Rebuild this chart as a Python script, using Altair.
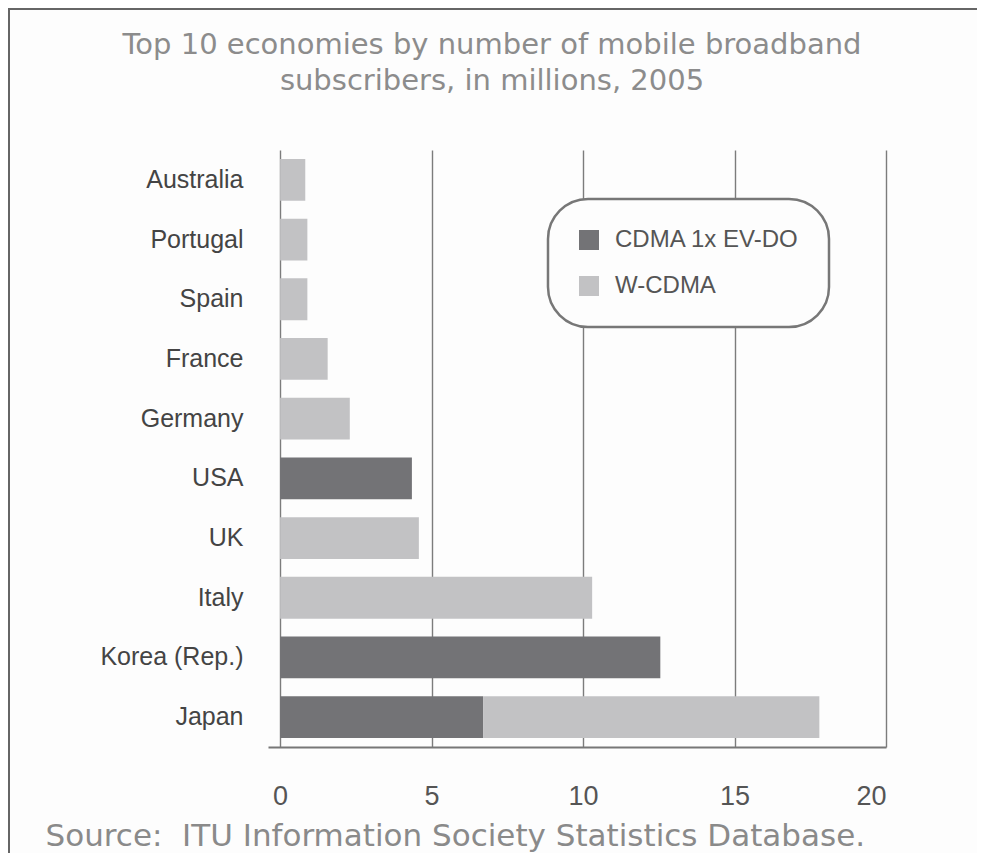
import altair as alt
import pandas as pd

countries = ["Australia", "Portugal", "Spain", "France", "Germany",
             "USA", "UK", "Italy", "Korea (Rep.)", "Japan"]
cdma_values = [0, 0, 0, 0, 0, 4.35, 0, 0, 12.55, 6.7]
wcdma_values = [0.83, 0.9, 0.9, 1.57, 2.3, 0, 4.58, 10.3, 0, 11.1]
techs = ["CDMA 1x EV-DO", "W-CDMA"]
tech_colors = ["#737376", "#c2c2c4"]
x_ticks = [0, 5, 10, 15, 20]
title_lines = ["Top 10 economies by number of mobile broadband",
               "subscribers, in millions, 2005"]
source_text = "Source:\u00a0 ITU Information Society Statistics Database."

rows = []
for c, a, b in zip(countries, cdma_values, wcdma_values):
    if a:
        rows.append({"country": c, "tech": techs[0], "value": a, "order": 0})
    if b:
        rows.append({"country": c, "tech": techs[1], "value": b, "order": 1})
df = pd.DataFrame(rows)

FONT = "Liberation Sans"
WIDE = "DejaVu Sans"
BG = "#fdfdfd"

bars = alt.Chart(df).mark_bar().encode(
    y=alt.Y("country:N", sort=countries,
            scale=alt.Scale(paddingInner=0.3, paddingOuter=0.15),
            axis=alt.Axis(title=None, ticks=False, domain=False, labelFontSize=25,
                          labelColor="#444", labelPadding=25, labelFont=FONT)),
    x=alt.X("value:Q", stack="zero",
            scale=alt.Scale(domain=[-0.4, 20], nice=False, zero=False),
            axis=alt.Axis(values=x_ticks, grid=True, gridColor="#7c7c7c", gridWidth=1.4,
                          domainColor="#777", domainWidth=2, ticks=False,
                          labelFontSize=27, labelColor="#555", labelFont=FONT, labelPadding=36,
                          title=source_text,
                          titleFont=WIDE, titleFontSize=31, titleFontWeight="normal",
                          titleColor="#8a8a8a", titleX=-223, titleY=98,
                          titleAnchor="start", titleAlign="left", titleBaseline="alphabetic")),
    color=alt.Color("tech:N", scale=alt.Scale(domain=techs, range=tech_colors),
                    legend=alt.Legend(title=None, orient="none", legendX=280, legendY=49,
                                      symbolType="square", symbolSize=400, symbolStrokeWidth=0,
                                      labelFontSize=24, labelColor="#555", labelFont=FONT,
                                      labelLimit=300, labelOffset=14,
                                      padding=29, rowPadding=22,
                                      strokeColor="#777", cornerRadius=40, fillColor=BG)),
    order=alt.Order("order:Q"),
)

frame_df = pd.DataFrame({"a": [0]})
top_line = alt.Chart(frame_df).mark_rule(color="#666", strokeWidth=2).encode(
    x=alt.value(-260), x2=alt.value(709), y=alt.value(-141))
left_line = alt.Chart(frame_df).mark_rule(color="#666", strokeWidth=2).encode(
    x=alt.value(-259), y=alt.value(-142), y2=alt.value(711))

chart = alt.layer(bars, top_line, left_line).properties(
    width=618, height=597,
    autosize=alt.AutoSizeParams(type="none"),
    padding={"left": 260, "top": 142, "right": 91, "bottom": 106},
    background=BG,
    title=alt.Title(title_lines,
                    fontSize=29, color="#8c8c8c", font=WIDE, fontWeight="normal",
                    anchor="middle", frame="group", dx=-85, offset=-112,
                    baseline="alphabetic", lineHeight=36),
).configure_view(stroke=None).configure_legend(strokeWidth=2.5)

chart.save("out.html", embed_options={"renderer": "svg", "actions": False})
